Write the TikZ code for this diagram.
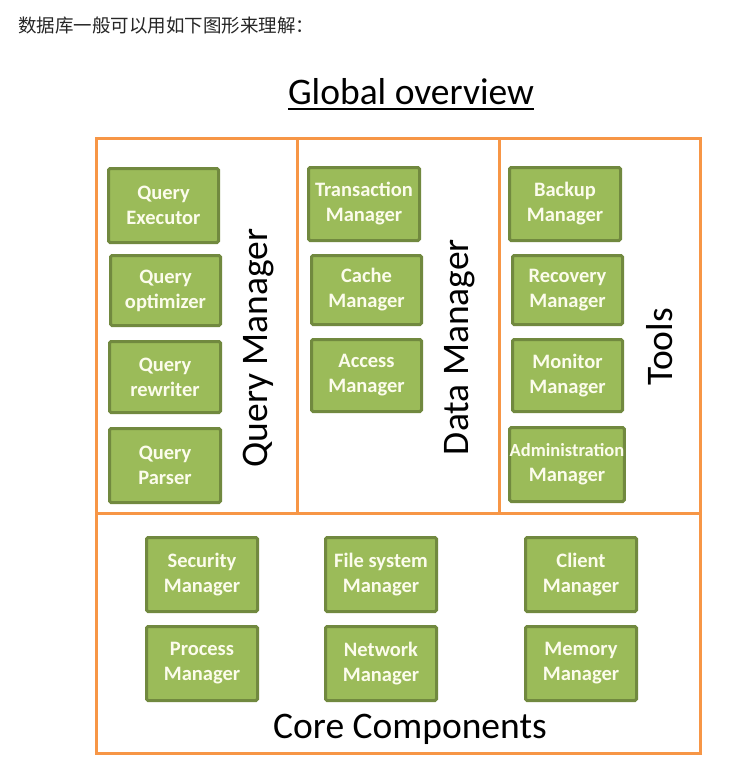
\documentclass[tikz,border=0pt]{standalone}
\usepackage{fontspec}
\setmainfont{Carlito}
\newfontfamily\cjk{Noto Sans CJK SC}
\definecolor{frameor}{RGB}{247,150,70}
\definecolor{boxfill}{RGB}{155,187,89}
\definecolor{boxedge}{RGB}{113,137,63}
\definecolor{boxtext}{RGB}{252,252,236}
\tikzset{
  gbox/.style={draw=boxedge, line width=3pt, fill=boxfill, rounded corners=1.5pt,
    text=boxtext, font=\fontsize{20.5}{25}\selectfont\bfseries, align=center,
    inner sep=0pt, anchor=center},
  sect/.style={draw=frameor, line width=3pt},
  biglabel/.style={font=\fontsize{37.5}{40}\selectfont, text=black, inner sep=0pt},
}
\newcommand{\gb}[6]{\node[gbox, minimum width=#4pt-3pt, minimum height=#5pt-3pt] (#1) at (#2,#3) {#6};}
\begin{document}
\begin{tikzpicture}[x=1pt,y=-1pt]
\useasboundingbox (0,0) rectangle (736,771);
\fill[white] (0,0) rectangle (736,771);
% header
\node[anchor=west, inner sep=0pt, font=\cjk\fontsize{18.5}{20}\selectfont, text=black!85] (hdr) at (18,25) {数据库一般可以用如下图形来理解：};
% title
\node[biglabel, anchor=base] (title) at (411,104) {Global overview};
\draw[line width=2.2pt] (288,109) -- (534,109);
% frame
\coordinate (tl) at (96,138);
\coordinate (br) at (700,753);
\draw[sect] (tl) rectangle (br);
\coordinate (hl) at (96,513);
\coordinate (hr) at (700,513);
\draw[sect] (hl) -- (hr);
\coordinate (v1t) at (297,138);
\coordinate (v1b) at (297,513);
\coordinate (v2t) at (499,138);
\coordinate (v2b) at (499,513);
\draw[sect] (v1t) -- (v1b);
\draw[sect] (v2t) -- (v2b);
% query manager
\gb{qe}{163.5}{205.5}{113}{77}{Query\\Executor}
\gb{qo}{165.5}{290.5}{113}{73}{Query\\optimizer}
\gb{qr}{165}{377}{114}{74}{Query\\rewriter}
\gb{qp}{165}{465.5}{114}{77}{Query\\Parser}
\node[biglabel, rotate=90] (qml) at (259,348) {Query Manager};
% data manager
\gb{tm}{364}{204}{114}{76}{Transaction\\Manager}
\gb{cm}{366.5}{290}{113}{72}{Cache\\Manager}
\gb{am}{366.5}{375.5}{113}{75}{Access\\Manager}
\node[biglabel, rotate=90] (dml) at (460,347) {Data Manager};
% tools
\gb{bm}{565}{204}{114}{76}{Backup\\Manager}
\gb{rm}{567.5}{290}{113}{72}{Recovery\\Manager}
\gb{mom}{567.5}{375.5}{113}{75}{Monitor\\Manager}
\gb{adm}{567}{464.5}{114}{77}{{\fontsize{18.5}{25}\selectfont Administration}\\Manager}
\node[biglabel, rotate=90] (tl2) at (660,347) {Tools};
% core
\gb{sm}{202}{574.5}{114}{77}{Security\\Manager}
\gb{pm}{202}{663.5}{114}{77}{Process\\Manager}
\gb{fm}{381}{574.5}{114}{77}{File system\\Manager}
\gb{nm}{381}{663.5}{114}{77}{Network\\Manager}
\gb{clm}{581}{574.5}{114}{77}{Client\\Manager}
\gb{mem}{581}{663.5}{114}{77}{Memory\\Manager}
\node[biglabel, anchor=base] (ccl) at (410,738) {Core Components};
\end{tikzpicture}
\end{document}
